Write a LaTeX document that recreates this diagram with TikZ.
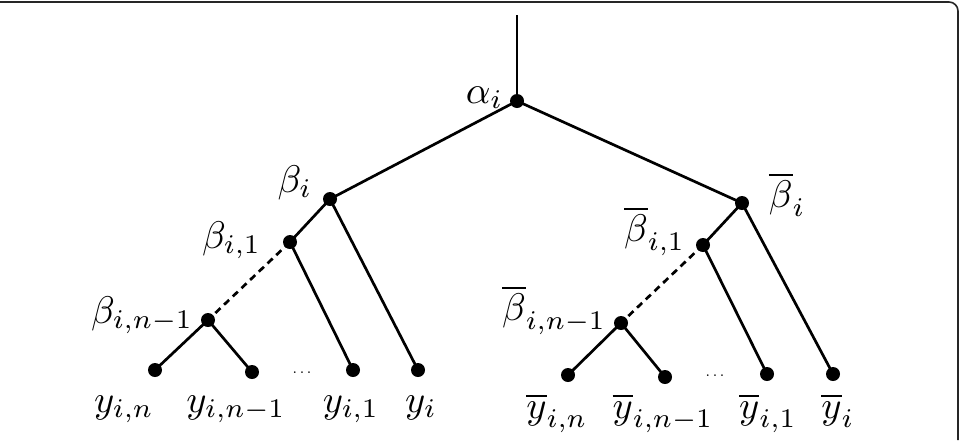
\documentclass[tikz,border=0pt]{standalone}
\begin{document}
\begin{tikzpicture}[x=1pt,y=-1pt,
  dot/.style={circle,fill=black,inner sep=0pt,minimum size=14pt},
  edge/.style={line width=2.7pt,black},
  dashedge/.style={line width=2.7pt,black,dash pattern=on 7pt off 5pt},
  lab/.style={inner sep=0pt,scale=3.85,transform shape},
  dots/.style={inner sep=0pt,scale=1.6,transform shape},
  frame/.style={line width=1.6pt,black!85}]
\useasboundingbox (0,0) rectangle (961,440);
% frame
\draw[frame] (0,2) -- (949,2) arc[start angle=90,end angle=0,radius=9pt] -- (958,440);
% nodes
\coordinate (top) at (517,15);
\node[dot] (a) at (517,101) {};
\node[dot] (b) at (330,199) {};
\node[dot] (bb) at (742,203) {};
\node[dot] (b1) at (290,242) {};
\node[dot] (bb1) at (703,245) {};
\node[dot] (bn) at (208,320) {};
\node[dot] (bbn) at (621,323) {};
\node[dot] (yn) at (155,370) {};
\node[dot] (yn1) at (252,372) {};
\node[dot] (y1) at (353,370) {};
\node[dot] (y) at (418,370) {};
\node[dot] (ybn) at (568,375) {};
\node[dot] (ybn1) at (665,377) {};
\node[dot] (yb1) at (767,374) {};
\node[dot] (yb) at (833,374) {};
% edges
\draw[edge] (top) -- (a.center);
\draw[edge] (a.center) -- (b.center);
\draw[edge] (a.center) -- (bb.center);
\draw[edge] (b.center) -- (b1.center);
\draw[edge] (b.center) -- (y.center);
\draw[dashedge] (b1.center) -- (bn.center);
\draw[edge] (b1.center) -- (y1.center);
\draw[edge] (bn.center) -- (yn.center);
\draw[edge] (bn.center) -- (yn1.center);
\draw[edge] (bb.center) -- (bb1.center);
\draw[edge] (bb.center) -- (yb.center);
\draw[dashedge] (bb1.center) -- (bbn.center);
\draw[edge] (bb1.center) -- (yb1.center);
\draw[edge] (bbn.center) -- (ybn.center);
\draw[edge] (bbn.center) -- (ybn1.center);
% labels
\node[lab,anchor=base east] (la) at (504,103) {$\alpha_i$};
\node[lab,anchor=base east] (lb) at (313,192) {$\beta_i$};
\node[lab,anchor=base west] (lbb) at (768,207) {$\overline{\beta}_i$};
\node[lab,anchor=base east] (lb1) at (262,248) {$\beta_{i,1}$};
\node[lab,anchor=base east] (lbb1) at (686,241) {$\overline{\beta}_{i,1}$};
\node[lab,anchor=base east] (lbn) at (194,323) {$\beta_{i,n-1}$};
\node[lab,anchor=base east] (lbbn) at (607,320) {$\overline{\beta}_{i,n-1}$};
\node[lab,anchor=base] (lyn) at (124,412) {$y_{i,n}$};
\node[lab,anchor=base] (lyn1) at (236,412) {$y_{i,n-1}$};
\node[lab,anchor=base] (ly1) at (351,412) {$y_{i,1}$};
\node[lab,anchor=base] (ly) at (421,412) {$y_i$};
\node[lab,anchor=base] (lybn) at (557,418) {$\overline{y}_{i,n}$};
\node[lab,anchor=base] (lybn1) at (663,418) {$\overline{y}_{i,n-1}$};
\node[lab,anchor=base] (lyb1) at (768,418) {$\overline{y}_{i,1}$};
\node[lab,anchor=base] (lyb) at (838,418) {$\overline{y}_i$};
\node[dots,anchor=base] (d1) at (302,373) {$\ldots$};
\node[dots,anchor=base] (d2) at (715,376) {$\ldots$};
\end{tikzpicture}
\end{document}
